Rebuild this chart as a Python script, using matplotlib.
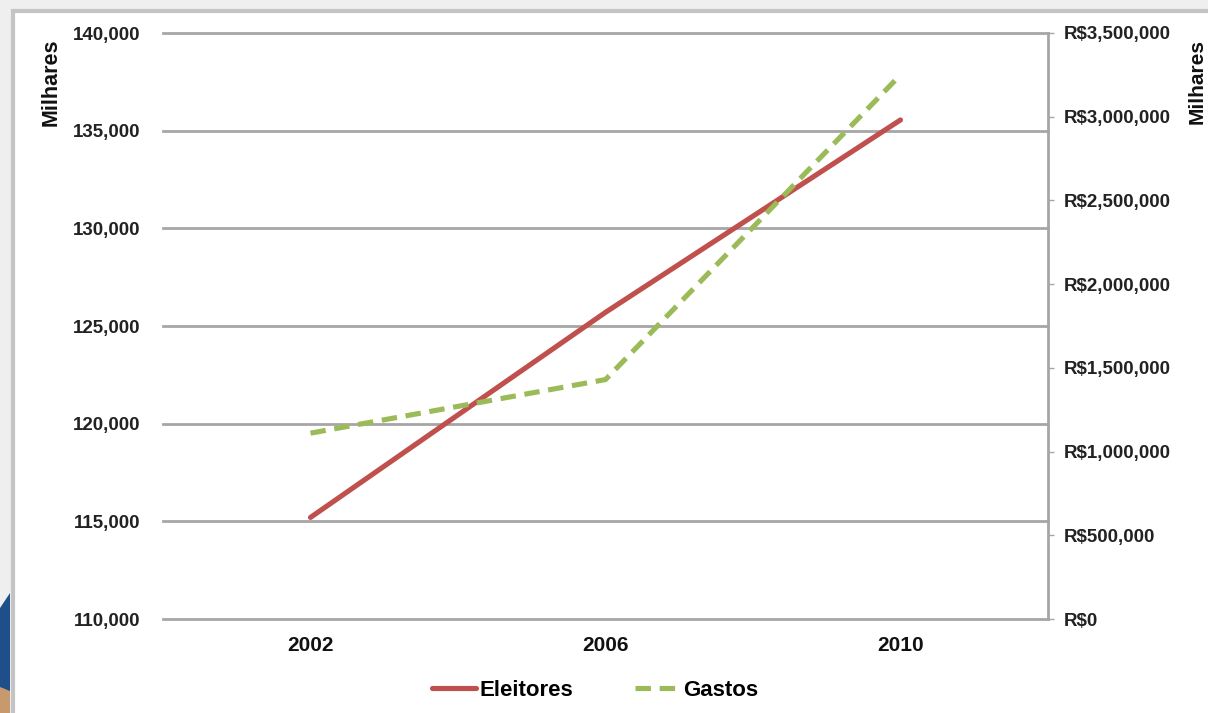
import matplotlib.pyplot as plt
from matplotlib.patches import Rectangle, Polygon
from matplotlib.ticker import FuncFormatter

plt.rcParams['font.family'] = ['Liberation Sans', 'DejaVu Sans']

# eleitores (milhares) e gastos (R$ milhares) por eleicao
anos = ['2002', '2006', '2010']
eleitores = [115200, 125700, 135550]
gastos = [1110000, 1430000, 3250000]

vermelho = '#c0504d'
verde = '#9bbb59'
cinza = '#a6a6a6'

fig = plt.figure(figsize=(12.08, 7.13), dpi=100, facecolor='#efefef')

# moldura do slide
fig.patches.append(Rectangle((13 / 1208, -0.01), 1.0, 1 - 11 / 713 + 0.01,
                             transform=fig.transFigure, facecolor='white',
                             edgecolor='#c4c4c4', linewidth=3, zorder=-2))
fig.patches.append(Polygon([(0, 0), (10 / 1208, 0), (10 / 1208, 120 / 713), (0, 105 / 713)],
                           closed=True, transform=fig.transFigure,
                           facecolor='#1f4f8a', edgecolor='none', zorder=-2))
fig.patches.append(Polygon([(0, 0), (10 / 1208, 0), (10 / 1208, 22 / 713), (0, 26 / 713)],
                           closed=True, transform=fig.transFigure,
                           facecolor='#c79a6e', edgecolor='none', zorder=-1))

ax = fig.add_axes([163 / 1208, 1 - 619 / 713, (1048 - 163) / 1208, (619 - 33) / 713])
ax.set_facecolor('none')
x = list(range(len(anos)))

ax.plot(x, eleitores, color=vermelho, lw=3.7, solid_capstyle='round', label='Eleitores', zorder=3)
ax.set_xlim(-0.5, 2.5)
ax.set_ylim(110000, 140000)
ax.set_yticks(range(110000, 140001, 5000))
ax.yaxis.set_major_formatter(FuncFormatter(lambda v, p: f'{int(v):,}'))
ax.set_xticks(x)
ax.set_xticklabels(anos)
ax.grid(axis='y', color=cinza, lw=2)
for gl in ax.get_ygridlines():
    gl.set_clip_on(False)
ax.set_axisbelow(True)
for s in ['left', 'top', 'right', 'bottom']:
    ax.spines[s].set_visible(False)
ax.tick_params(axis='y', length=0, pad=16, labelsize=13.5, labelcolor='#222222')
ax.tick_params(axis='x', length=0, pad=12, labelsize=15, labelcolor='#111111')
for t in ax.get_yticklabels() + ax.get_xticklabels():
    t.set_fontweight('bold')

ax2 = ax.twinx()
ax2.plot(x, gastos, color=verde, lw=3.7, dashes=(3, 1.7), label='Gastos', zorder=3)
ax2.set_ylim(0, 3500000)
ax2.set_yticks(range(0, 3500001, 500000))
ax2.yaxis.set_major_formatter(FuncFormatter(lambda v, p: f'R${int(v):,}'))
for s in ['left', 'top', 'bottom']:
    ax2.spines[s].set_visible(False)
ax2.spines['right'].set_color(cinza)
ax2.spines['right'].set_linewidth(2)
ax2.tick_params(axis='y', direction='out', length=4, width=1, color=cinza,
                pad=7, labelsize=13.5, labelcolor='#222222')
for t in ax2.get_yticklabels():
    t.set_fontweight('bold')

fig.text(51 / 1208, 1 - 82 / 713, 'Milhares', rotation=90, ha='center', va='center',
         fontsize=15.5, fontweight='bold', color='#111111')
fig.text(1197 / 1208, 1 - 82 / 713, 'Milhares', rotation=90, ha='center', va='center',
         fontsize=15, fontweight='bold', color='#111111')

h1, l1 = ax.get_legend_handles_labels()
h2, l2 = ax2.get_legend_handles_labels()
fig.legend(h1 + h2, l1 + l2, loc='center', bbox_to_anchor=(595 / 1208, 1 - 690 / 713),
           ncol=2, frameon=False, handlelength=2.0, handletextpad=0.15,
           columnspacing=2.8, prop={'weight': 'bold', 'size': 16})

fig.savefig('out.png', dpi=100, facecolor=fig.get_facecolor())
